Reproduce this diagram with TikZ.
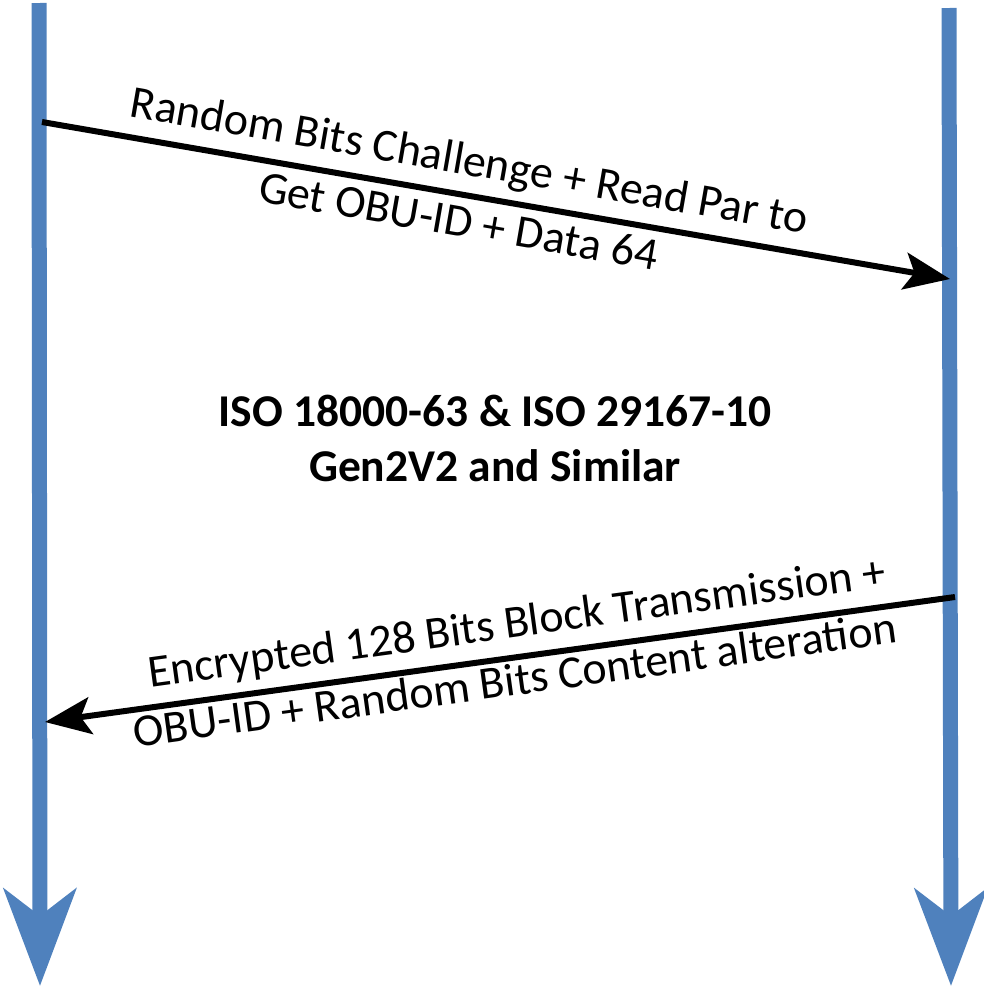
\documentclass[tikz,border=0pt]{standalone}
\usepackage{fontspec}
\setmainfont{Carlito}
\usetikzlibrary{arrows.meta}
\definecolor{lifeblue}{RGB}{79,129,189}
\tikzset{
  lifeline/.style={draw=lifeblue, line width=15pt,
    -{Stealth[length=97pt,width=72pt,inset=27pt,fill=lifeblue]}},
  msgarrow/.style={draw=black, line width=6pt,
    -{Stealth[length=46pt,width=37pt,inset=10pt]}},
  msgtext/.style={anchor=base, inner sep=0pt, font=\fontsize{46}{52}\selectfont},
  titletext/.style={align=center, inner sep=0pt, font=\fontsize{45.5}{55}\selectfont\bfseries}
}
\begin{document}
\begin{tikzpicture}[x=1pt,y=-1pt]
\useasboundingbox (0,0) rectangle (984,988);
% lifelines
\coordinate (Ltop) at (39,3);
\coordinate (Lbot) at (40,986);
\coordinate (Rtop) at (949,8);
\coordinate (Rbot) at (951,986);
\draw[lifeline] (Ltop) -- (Lbot);
\draw[lifeline] (Rtop) -- (Rbot);
% messages
\coordinate (m1s) at (42,122);
\coordinate (m1e) at (950,279);
\coordinate (m2s) at (955,597);
\coordinate (m2e) at (45,722);
\draw[msgarrow] (m1s) -- (m1e);
\draw[msgarrow] (m2s) -- (m2e);
% labels
\node[msgtext, rotate=-9.87] (t1a) at (467,175) {Random Bits Challenge + Read Par to};
\node[msgtext, rotate=-9.87] (t1b) at (456,236) {Get OBU-ID + Data 64};
\node[msgtext, rotate=7.83] (t2a) at (519,637) {Encrypted 128 Bits Block Transmission +};
\node[msgtext, rotate=7.83] (t2b) at (517,695) {OBU-ID + Random Bits Content alteration};
\node[titletext] (title) at (495,438) {ISO 18000-63 \& ISO 29167-10\\Gen2V2 and Similar};
\end{tikzpicture}
\end{document}
